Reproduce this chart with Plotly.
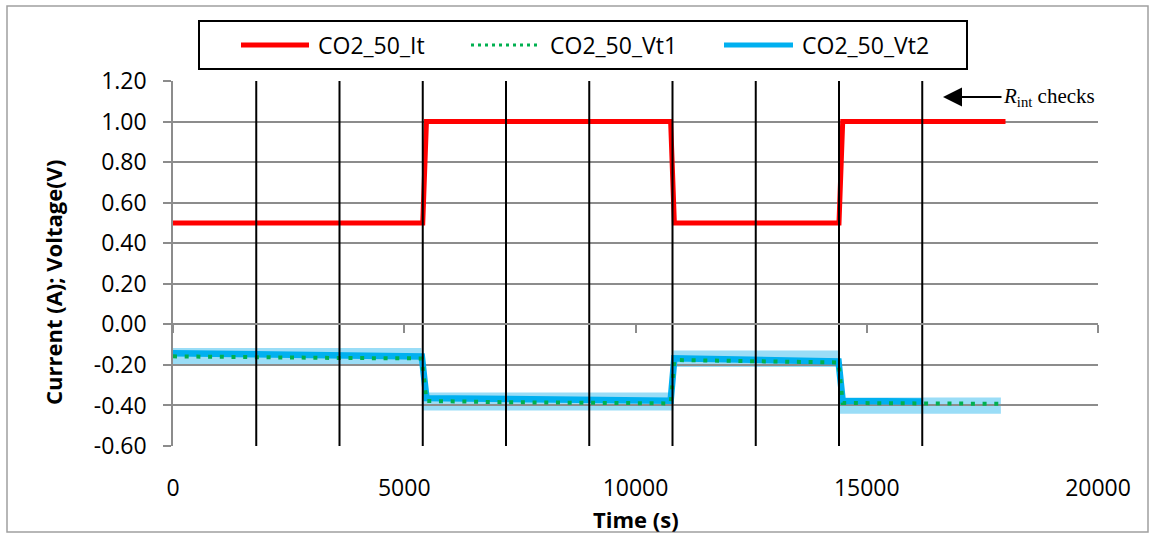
import plotly.graph_objects as go

# ---------------- data ----------------
t_it = [0, 5400, 5480, 10760, 10840, 14400, 14480, 18000]
it_vals = [0.50, 0.50, 1.00, 1.00, 0.50, 0.50, 1.00, 1.00]

t_vt1 = [0, 1800, 3600, 5380, 5480, 7200, 9000, 10760, 10840, 12600, 14390, 14480, 16200, 18000]
vt1_vals = [-0.158, -0.163, -0.166, -0.168, -0.378, -0.384, -0.388, -0.390, -0.176, -0.182, -0.188,
            -0.388, -0.391, -0.392]

t_vt2 = [0, 1800, 3600, 5380, 5480, 7200, 9000, 10760, 10840, 12600, 14390, 14480, 16200]
vt2_vals = [-0.142, -0.150, -0.155, -0.159, -0.364, -0.370, -0.374, -0.377, -0.167, -0.175, -0.183,
            -0.378, -0.381]

# Rint check times (vertical markers)
rint_times = [1800, 3600, 5400, 7200, 9000, 10800, 12600, 14400, 16200]

# Voltage bands (start, end, low, high)
band_t0 = [0, 5390, 10820, 14420]
band_t1 = [5370, 10820, 14420, 17900]
band_lo = [-0.203, -0.425, -0.211, -0.441]
band_hi = [-0.117, -0.336, -0.129, -0.361]

series_names = ["CO2_50_It", "CO2_50_Vt1", "CO2_50_Vt2"]
x_ticks = [0, 5000, 10000, 15000, 20000]
x_ticklabels = ["0", "5000", "10000", "15000", "20000"]
y_ticks = [-0.6, -0.4, -0.2, 0.0, 0.2, 0.4, 0.6, 0.8, 1.0, 1.2]
y_ticklabels = ["-0.60", "-0.40", "-0.20", "0.00", "0.20", "0.40", "0.60", "0.80", "1.00", "1.20"]
x_range = [0, 20000]
y_range = [-0.6, 1.2]
x_title = "Time (s)"
y_title = "Current (A); Voltage(V)"

# ---------------- style ----------------
RED = "#FF0000"
GREEN = "#00B050"
BLUE = "#00B0F0"
BAND = "#9ADDF7"
GRID = "#8C8C8C"
FONT = "Open Sans"

W, H = 1158, 534
ML, MR, MT, MB = 173, 60, 81, 88
PW = W - ML - MR
PH = H - MT - MB


def px(x):
    return (x - ML) / PW


def py(y):
    return (H - MB - y) / PH


fig = go.Figure()

# Rint check vertical lines
vx, vy = [], []
for t in rint_times:
    vx += [t, t, None]
    vy += [y_range[0], y_range[1], None]
fig.add_trace(go.Scatter(x=vx, y=vy, mode="lines", xaxis="x2", yaxis="y",
                         line=dict(color="black", width=2), showlegend=False,
                         hoverinfo="skip"))

fig.add_trace(go.Scatter(x=t_vt2, y=vt2_vals, name=series_names[2], mode="lines",
                         line=dict(color=BLUE, width=6.5), showlegend=False))
fig.add_trace(go.Scatter(x=t_vt1, y=vt1_vals, name=series_names[1], mode="lines",
                         line=dict(color=GREEN, width=4, dash="4px,7.7px"),
                         showlegend=False))
fig.add_trace(go.Scatter(x=t_it, y=it_vals, name=series_names[0], mode="lines",
                         line=dict(color=RED, width=5), showlegend=False))

shapes = []
for a, b, lo, hi in zip(band_t0, band_t1, band_lo, band_hi):
    shapes.append(dict(type="rect", xref="x", yref="y", x0=a, x1=b, y0=lo, y1=hi,
                       fillcolor=BAND, line=dict(width=0), layer="below"))

# outer chart border
shapes.append(dict(type="rect", xref="paper", yref="paper",
                   x0=px(7), x1=px(1148), y0=py(532), y1=py(6),
                   line=dict(color="#A0A0A0", width=1.5), fillcolor="rgba(0,0,0,0)"))

# custom legend
shapes.append(dict(type="rect", xref="paper", yref="paper",
                   x0=px(199), x1=px(967), y0=py(69), y1=py(21),
                   line=dict(color="black", width=2), fillcolor="white"))
leg_y = py(45)
leg_items = [
    (241, 309, 316, RED, 5, "solid"),
    (471, 537, 548, GREEN, 3, "3px,4px"),
    (724, 793, 800, BLUE, 5, "solid"),
]
annotations = []
for (l0, l1, tx, col, w, d), name in zip(leg_items, series_names):
    shapes.append(dict(type="line", xref="paper", yref="paper",
                       x0=px(l0), x1=px(l1), y0=leg_y, y1=leg_y,
                       line=dict(color=col, width=w, dash=d)))
    annotations.append(dict(xref="paper", yref="paper", x=px(tx), y=leg_y,
                            xanchor="left", yanchor="middle", showarrow=False,
                            text=name, font=dict(family=FONT, size=23, color="black")))

annotations.append(dict(xref="paper", yref="paper", x=px(943), y=py(97),
                        text="<i>R</i><sub>int</sub> checks",
                        font=dict(family="Liberation Serif", size=21, color="black"),
                        showarrow=True, ax=106, ay=0, arrowhead=2, arrowsize=1.9,
                        arrowwidth=2, arrowcolor="black"))

# axis titles
annotations.append(dict(xref="paper", yref="paper", x=px(636), y=py(519),
                        xanchor="center", yanchor="middle", showarrow=False,
                        text="<b>%s</b>" % x_title,
                        font=dict(family=FONT, size=22, color="black")))
annotations.append(dict(xref="paper", yref="paper", x=px(53), y=py(283),
                        xanchor="center", yanchor="middle", showarrow=False,
                        textangle=-90, text="<b>%s</b>" % y_title,
                        font=dict(family=FONT, size=22, color="black")))

fig.update_layout(
    width=W, height=H,
    margin=dict(l=ML, r=MR, t=MT, b=MB, autoexpand=False),
    paper_bgcolor="white", plot_bgcolor="white",
    showlegend=False,
    shapes=shapes, annotations=annotations,
    font=dict(family=FONT, size=23, color="black"),
    xaxis=dict(range=x_range, tickvals=x_ticks, ticktext=x_ticklabels,
               showgrid=False, zeroline=False, showline=False, ticks="",
               ticklabelstandoff=26, automargin=False,
               tickfont=dict(family=FONT, size=23, color="black")),
    xaxis2=dict(range=x_range, overlaying="x", anchor="free",
                position=(0 - y_range[0]) / (y_range[1] - y_range[0]),
                tickvals=x_ticks, showticklabels=False, showgrid=False, zeroline=False,
                showline=True, linecolor=GRID, linewidth=1.5,
                ticks="outside", ticklen=8, tickwidth=1.5, tickcolor=GRID),
    yaxis=dict(range=y_range, tickvals=y_ticks, ticktext=y_ticklabels,
               showgrid=True, gridcolor=GRID, gridwidth=1.5, zeroline=False,
               showline=True, linecolor=GRID, linewidth=1.5,
               ticks="outside", ticklen=8, tickwidth=1.5, tickcolor=GRID,
               ticklabelstandoff=12, automargin=False,
               tickfont=dict(family=FONT, size=23, color="black")),
)

fig.write_html("out.html", config={"displayModeBar": False},
               post_script="document.body.style.margin='0px';"
                           "document.body.style.padding='0px';"
                           "document.body.style.overflow='hidden';")
